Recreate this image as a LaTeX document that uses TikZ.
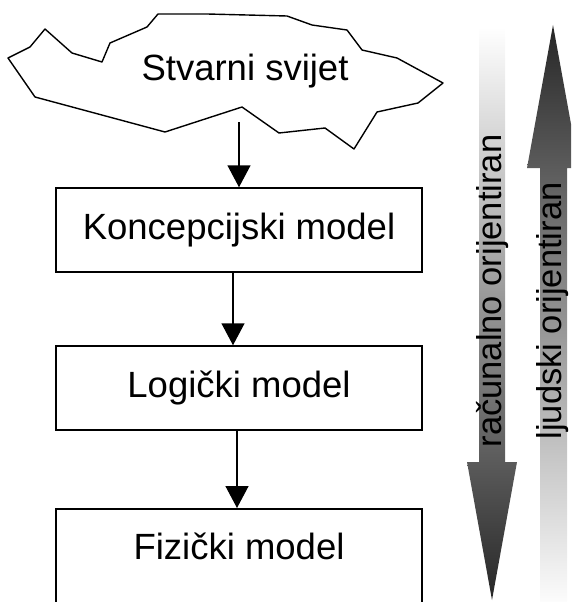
\documentclass[tikz,border=0pt]{standalone}
\usepackage{fontspec}
\setmainfont{Liberation Sans}
\usepackage{tikz}
\usetikzlibrary{arrows.meta}
\tikzstyle{process} = [rectangle, minimum width=366pt, inner ysep=25pt, text height=26pt, text depth=8pt, text centered, draw=black, line width=1.5pt, font=\fontsize{36.5}{40}\selectfont]
\tikzstyle{label} = [font=\fontsize{36.5}{40}\selectfont]
\tikzstyle{side} = [rotate=90, inner sep=0pt, font=\fontsize{34.5}{38}\selectfont]
\tikzstyle{arrow} = [line width=1.5pt, -{Triangle[width=23pt,length=22pt]}]

\begin{document}
\begin{tikzpicture}[x=1pt, y=-1pt]
   \useasboundingbox (0,0) rectangle (571,602);
   \clip (0,0) rectangle (571,602);
   % stvarni svijet
   \draw [line width=1.4pt, line join=round] (8,58) -- (30,47) -- (45,29) -- (72,53) -- (102,62) -- (110,43) -- (147,27) -- (158,14) -- (207,14) -- (287,16) -- (312,25) -- (347,30) -- (362,50) -- (397,58) -- (443,83) -- (418,103) -- (377,112) -- (354,149) -- (325,128) -- (279,133) -- (242,107) -- (165,132) -- (35,97) -- cycle;
   \node (sv) [label, anchor=base] at (245,80) {Stvarni svijet};
   \coordinate (svdno) at (239,122);
   % modeli
   \node (kon) [process] at (239,230) {Koncepcijski model};
   \node (log) [process] at (239,388) {Logički model};
   \node (fiz) [process, anchor=north, text depth=100pt] at (239,508) {Fizički model};
   \draw [arrow] (svdno) -- (svdno |- kon.north);
   \draw [arrow] ([xshift=-6pt]kon.south) -- ([xshift=-6pt]log.north);
   \draw [arrow] ([xshift=-2pt]log.south) -- ([xshift=-2pt]fiz.north);
   % orijentacija
   \shade [top color=white, bottom color=black!85] (479,27) -- (505,27) -- (505,462) -- (517,462) -- (492,600) -- (467,462) -- (479,462) -- cycle;
   \shade [top color=black!85, bottom color=white] (553,25) -- (579,168) -- (567,168) -- (567,610) -- (540,610) -- (540,168) -- (527,168) -- cycle;
   \node (rac) [side] at (493,291) {računalno orijentiran};
   \node (lju) [side] at (553,311) {ljudski orijentiran};
\end{tikzpicture}
\end{document}
